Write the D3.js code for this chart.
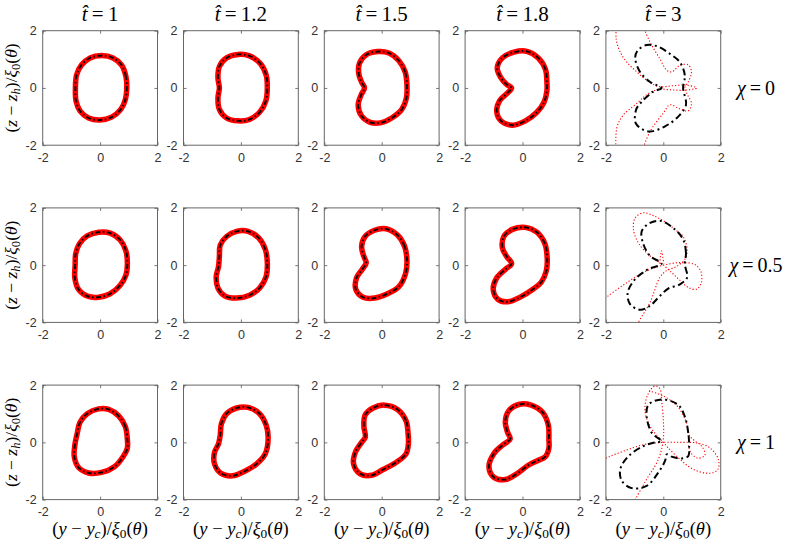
<!DOCTYPE html>
<html>
<head>
<meta charset="utf-8">
<script src="https://cdn.jsdelivr.net/npm/d3@7"></script>
<style>
  body { margin: 0; background: white; }
  svg { display: block; }
</style>
</head>
<body>
<div id="chart"></div>
<script>
// column and row labels
const tValues = ["1", "1.2", "1.5", "1.8", "3"];
const chiValues = ["0", "0.5", "1"];
const tickValues = [-2, 0, 2];

// chi = 0 contours, (y - yc)/xi0, (z - zh)/xi0
const chi0_t1 = [[0.93, 0], [0.9, 0.4], [0.75, 0.8], [0.45, 1.05], [0.05, 1.13], [-0.35, 1.05], [-0.65, 0.8], [-0.82, 0.45], [-0.86, 0], [-0.84, -0.45], [-0.7, -0.8], [-0.4, -1.05], [0, -1.12], [0.4, -1.02], [0.72, -0.75], [0.88, -0.4]];
const chi0_t12 = [[0.92, 0], [0.88, 0.45], [0.68, 0.85], [0.3, 1.12], [-0.1, 1.17], [-0.5, 1.05], [-0.75, 0.75], [-0.8, 0.35], [-0.75, 0], [-0.8, -0.35], [-0.75, -0.75], [-0.5, -1.05], [-0.1, -1.15], [0.3, -1.1], [0.65, -0.85], [0.87, -0.45]];
const chi0_t15 = [[0.88, 0.1], [0.82, 0.55], [0.6, 0.95], [0.25, 1.22], [-0.15, 1.27], [-0.55, 1.15], [-0.78, 0.85], [-0.8, 0.5], [-0.7, 0.2], [-0.6, 0], [-0.72, -0.25], [-0.82, -0.6], [-0.7, -0.98], [-0.4, -1.2], [-0.05, -1.22], [0.35, -1.05], [0.7, -0.75], [0.86, -0.35]];
const chi0_t18 = [[0.85, 0.2], [0.8, 0.65], [0.55, 1.05], [0.15, 1.28], [-0.3, 1.25], [-0.7, 1.05], [-0.88, 0.7], [-0.75, 0.35], [-0.55, 0.12], [-0.38, 0], [-0.55, -0.2], [-0.8, -0.45], [-0.9, -0.8], [-0.75, -1.15], [-0.35, -1.3], [0.1, -1.15], [0.5, -0.85], [0.75, -0.5], [0.85, -0.1]];
const chi0_t3_black = [[0.69, 0], [0.75, 0.44], [0.58, 0.9], [0.23, 1.19], [-0.2, 1.45], [-0.58, 1.5], [-0.9, 1.3], [-0.98, 1.05], [-0.81, 0.56], [-0.46, 0.21], [-0.06, 0], [-0.35, -0.13], [-0.75, -0.48], [-0.95, -0.77], [-0.95, -1.25], [-0.52, -1.52], [0.06, -1.34], [0.52, -1.0], [0.79, -0.59]];
const chi0_t3_red = [[-1.62, 2.4], [-1.64, 1.7], [-1.5, 1.25], [-1.27, 0.9], [-0.92, 0.56], [-0.58, 0.27], [-0.17, 0.05], [0.35, 0.08], [0.81, 0.1], [1.16, 0], [0.75, -0.08], [0.3, -0.07], [-0.17, -0.05], [-0.6, -0.25], [-0.92, -0.54], [-1.39, -0.94], [-1.62, -1.4], [-1.64, -2.4]];
const chi0_t3_red2 = [[-0.81, -2.4], [-0.46, -1.52], [0, -0.88], [0.23, -0.59], [0.55, -0.72], [0.87, -0.8], [0.98, -0.54], [0.85, -0.25], [0.75, 0], [0.87, 0.21], [0.98, 0.56], [0.87, 0.81], [0.58, 0.79], [0.29, 0.56], [0.12, 0.62], [-0.12, 1.02], [-0.46, 1.6], [-0.81, 2.4]];

// chi = 0.5 contours
const chi05_t1 = [[0.95, 0.05], [0.9, 0.5], [0.7, 0.88], [0.35, 1.12], [-0.05, 1.15], [-0.45, 1.02], [-0.72, 0.75], [-0.85, 0.4], [-0.87, 0], [-0.88, -0.45], [-0.75, -0.85], [-0.45, -1.08], [-0.05, -1.12], [0.35, -1.0], [0.7, -0.7], [0.9, -0.35]];
const chi05_t12 = [[0.92, 0.1], [0.85, 0.55], [0.62, 0.95], [0.25, 1.18], [-0.15, 1.18], [-0.5, 1.0], [-0.72, 0.7], [-0.75, 0.3], [-0.78, -0.05], [-0.86, -0.4], [-0.8, -0.8], [-0.55, -1.08], [-0.15, -1.15], [0.3, -1.05], [0.65, -0.8], [0.88, -0.4]];
const chi05_t15 = [[0.88, 0.15], [0.8, 0.65], [0.55, 1.05], [0.15, 1.27], [-0.25, 1.22], [-0.58, 1.0], [-0.7, 0.65], [-0.62, 0.3], [-0.54, 0.08], [-0.68, -0.15], [-0.88, -0.45], [-0.9, -0.85], [-0.65, -1.12], [-0.25, -1.15], [0.2, -1.0], [0.6, -0.75], [0.83, -0.3]];
const chi05_t18 = [[0.86, 0.25], [0.78, 0.75], [0.5, 1.15], [0.1, 1.32], [-0.35, 1.25], [-0.65, 1.0], [-0.7, 0.6], [-0.55, 0.3], [-0.38, 0.05], [-0.6, -0.15], [-0.9, -0.45], [-1.02, -0.85], [-0.85, -1.2], [-0.5, -1.28], [-0.05, -1.1], [0.35, -0.85], [0.65, -0.6], [0.83, -0.2]];
const chi05_t3_black = [[0.75, 0.03], [0.79, 0.43], [0.69, 0.9], [0.4, 1.25], [-0.06, 1.54], [-0.46, 1.48], [-0.75, 1.19], [-0.69, 0.72], [-0.46, 0.32], [-0.06, 0.05], [-0.52, -0.14], [-0.98, -0.49], [-1.24, -0.96], [-1.16, -1.36], [-0.81, -1.56], [-0.46, -1.42], [-0.17, -1.13], [0.17, -0.82], [0.58, -0.67], [0.83, -0.43]];
const chi05_t3_red = [[-2.4, -1.4], [-2, -1.13], [-1.27, -0.61], [-0.58, -0.2], [0, 0], [0.64, 0.09], [1.1, 0.02], [1.3, -0.2], [1.33, -0.6], [1.16, -0.84], [0.87, -0.78], [0.55, -0.5], [0.29, -0.26], [0, 0], [-0.46, 0.32], [-0.87, 0.78], [-1.04, 1.25], [-0.98, 1.65], [-0.69, 1.83], [-0.35, 1.73], [0.05, 1.52], [0.4, 1.25], [0.69, 1.0], [0.83, 0.55], [0.75, 0.2], [0.45, -0.05], [0.1, -0.2], [-0.12, -0.43], [-0.46, -1.3], [-0.87, -2], [-1.05, -2.4]];
const chi05_t3_red2 = [[-0.12, 0.05], [-0.1, 0.3], [-0.06, 0.5], [-0.02, 0.3], [0.02, 0.05]];

// chi = 1 contours
const chi1_t1 = [[0.95, 0.1], [0.88, 0.55], [0.65, 0.92], [0.3, 1.15], [-0.05, 1.17], [-0.45, 1.0], [-0.7, 0.7], [-0.8, 0.3], [-0.88, -0.1], [-0.9, -0.5], [-0.75, -0.88], [-0.4, -1.07], [0.05, -1.05], [0.5, -0.85], [0.8, -0.5], [0.95, -0.2]];
const chi1_t12 = [[0.95, 0.15], [0.88, 0.6], [0.65, 1.0], [0.25, 1.22], [-0.15, 1.2], [-0.5, 1.0], [-0.68, 0.65], [-0.72, 0.25], [-0.78, -0.05], [-0.92, -0.35], [-0.92, -0.75], [-0.7, -1.08], [-0.3, -1.17], [0.15, -1.0], [0.55, -0.75], [0.85, -0.4]];
const chi1_t15 = [[0.92, 0.3], [0.85, 0.75], [0.55, 1.15], [0.1, 1.3], [-0.3, 1.2], [-0.58, 0.95], [-0.62, 0.55], [-0.57, 0.18], [-0.7, 0], [-0.92, -0.35], [-0.98, -0.75], [-0.75, -1.1], [-0.35, -1.15], [0.05, -0.95], [0.5, -0.7], [0.85, -0.4], [0.93, -0.05]];
const chi1_t18 = [[0.92, 0.1], [0.9, 0.6], [0.7, 1.05], [0.3, 1.3], [-0.1, 1.33], [-0.48, 1.1], [-0.6, 0.7], [-0.52, 0.35], [-0.43, 0.12], [-0.7, -0.1], [-1.0, -0.4], [-1.17, -0.85], [-1.0, -1.22], [-0.6, -1.3], [-0.2, -1.1], [0.2, -0.8], [0.5, -0.65], [0.8, -0.5], [0.92, -0.2]];
const chi1_t3_black = [[0.9, -0.13], [0.87, 0.33], [0.75, 0.9], [0.52, 1.31], [-0.06, 1.5], [-0.52, 1.31], [-0.58, 0.9], [-0.4, 0.33], [-0.06, 0.04], [-0.29, 0], [-0.69, -0.13], [-1.21, -0.48], [-1.5, -0.94], [-1.45, -1.34], [-1.1, -1.6], [-0.58, -1.52], [-0.17, -1.05], [0.06, -0.65], [0.12, -0.42], [0.29, -0.5], [0.64, -0.56], [0.87, -0.48]];
const chi1_t3_red = [[-2.4, -0.75], [-1.97, -0.54], [-1.39, -0.31], [-0.69, -0.08], [0, 0], [0.6, 0], [1.16, -0.02], [1.62, -0.19], [1.92, -0.6], [1.9, -0.95], [1.62, -1.08], [1.04, -0.94], [0.58, -0.59], [0.17, -0.19], [0, 0], [-0.46, 0.56], [-0.64, 1.14], [-0.52, 1.71], [-0.29, 1.97], [-0.12, 1.88], [-0.06, 1.48], [0, 0.79], [0, 0.1], [-0.17, -0.59], [-0.58, -1.29], [-0.98, -2], [-1.2, -2.4]];
const chi1_t3_red2 = [[-0.5, 1.8], [0, 1.62], [0.5, 1.25], [0.8, 0.7], [0.9, 0.25], [1.1, 0.05], [1.35, -0.15], [1.45, -0.45], [1.2, -0.55], [0.95, -0.35], [0.88, -0.1]];

const smoothRows = [
    [chi0_t1, chi0_t12, chi0_t15, chi0_t18],
    [chi05_t1, chi05_t12, chi05_t15, chi05_t18],
    [chi1_t1, chi1_t12, chi1_t15, chi1_t18]
];
const blackT3 = [chi0_t3_black, chi05_t3_black, chi1_t3_black];
const redT3 = [[chi0_t3_red, chi0_t3_red2], [chi05_t3_red, chi05_t3_red2], [chi1_t3_red, chi1_t3_red2]];

let width = 789, height = 545;
let panelLeft = 42.7, panelTop = 30.7, panelW = 114.8, panelH = 114.5;
let colStep = 140.8, rowStep = 177.2;
let serif = "'Liberation Serif', 'Times New Roman', 'DejaVu Serif', serif";
let sans = "'Liberation Sans', Arial, sans-serif";
let eq = "\u2009=\u2009"; // wider spacing around = like TeX

let svg = d3.select("#chart").append("svg")
    .attr("width", width)
    .attr("height", height);

let x = d3.scaleLinear().domain([-2, 2]).range([0, panelW]);
let y = d3.scaleLinear().domain([-2, 2]).range([panelH, 0]);

let closedLine = d3.line().x(d => x(d[0])).y(d => y(d[1])).curve(d3.curveCatmullRomClosed.alpha(0.5));
let openLine = d3.line().x(d => x(d[0])).y(d => y(d[1])).curve(d3.curveCatmullRom.alpha(0.5));

// pieces: [text, italic, subscript]
function MathText(sel, pieces) {
    pieces.forEach(p => {
        let ts = sel.append("tspan").text(p[0]);
        if (p[1]) ts.style("font-style", "italic");
        if (p[2]) ts.attr("font-size", "0.72em").attr("baseline-shift", "-22%");
    });
}

function DrawAxes(g) {
    g.append("rect")
        .attr("width", panelW)
        .attr("height", panelH)
        .style("fill", "white");

    let fmt = d => String(d);
    let bottom = g.append("g").attr("transform", "translate(0," + panelH + ")")
        .call(d3.axisBottom(x).tickValues(tickValues).tickFormat(fmt).tickSizeInner(-3).tickSizeOuter(0).tickPadding(8));
    let left = g.append("g")
        .call(d3.axisLeft(y).tickValues(tickValues).tickFormat(fmt).tickSizeInner(-3).tickSizeOuter(0).tickPadding(6));
    let top = g.append("g")
        .call(d3.axisTop(x).tickValues(tickValues).tickSizeInner(-3).tickSizeOuter(0).tickFormat(""));
    let right = g.append("g").attr("transform", "translate(" + panelW + ",0)")
        .call(d3.axisRight(y).tickValues(tickValues).tickSizeInner(-3).tickSizeOuter(0).tickFormat(""));

    [bottom, left, top, right].forEach(a => {
        a.select(".domain").remove();
        a.selectAll("line").style("stroke", "#555").style("stroke-width", 0.8);
        a.selectAll("text")
            .style("font-family", sans)
            .style("font-size", "12.5px")
            .style("fill", "#333");
    });
}

function DrawBox(g) {
    g.append("rect")
        .attr("width", panelW)
        .attr("height", panelH)
        .style("fill", "none")
        .style("stroke", "#666")
        .style("stroke-width", 1);
}

for (let r = 0; r < chiValues.length; ++r) {
    for (let c = 0; c < tValues.length; ++c) {
        let g = svg.append("g")
            .attr("transform", "translate(" + (panelLeft + colStep * c) + "," + (panelTop + rowStep * r) + ")");
        DrawAxes(g);

        let clipId = "clip" + r + "_" + c;
        g.append("clipPath").attr("id", clipId)
            .append("rect").attr("width", panelW).attr("height", panelH);
        let plot = g.append("g").attr("clip-path", "url(#" + clipId + ")");

        if (c < 4) {
            let pts = smoothRows[r][c];
            plot.append("path")
                .attr("d", closedLine(pts))
                .style("fill", "none")
                .style("stroke", "#ff0000")
                .style("stroke-width", 5.5)
                .style("stroke-linejoin", "round");
            plot.append("path")
                .attr("d", closedLine(pts))
                .style("fill", "none")
                .style("stroke", "black")
                .style("stroke-width", 1.8)
                .style("stroke-dasharray", "5,2.5,1.5,2.5");
        } else {
            redT3[r].forEach(seg => {
                plot.append("path")
                    .attr("d", openLine(seg))
                    .style("fill", "none")
                    .style("stroke", "#ff0000")
                    .style("stroke-width", 1.1)
                    .style("stroke-dasharray", "1.2,2");
            });
            plot.append("path")
                .attr("d", closedLine(blackT3[r]))
                .style("fill", "none")
                .style("stroke", "black")
                .style("stroke-width", 2)
                .style("stroke-dasharray", "7,3.5,2,3.5");
        }
        DrawBox(g);

        // column titles
        if (r == 0) {
            let t = svg.append("text")
                .attr("x", panelLeft + colStep * c + panelW / 2)
                .attr("y", 21)
                .attr("text-anchor", "middle")
                .style("font-family", serif)
                .style("font-size", "21px");
            MathText(t, [["t\u0302", true, false], [eq + tValues[c], false, false]]);
        }
        // x labels under the last row
        if (r == chiValues.length - 1) {
            let t = svg.append("text")
                .attr("x", panelLeft + colStep * c + panelW / 2)
                .attr("y", 535)
                .attr("text-anchor", "middle")
                .style("font-family", serif)
                .style("font-size", "18.5px");
            MathText(t, [["(", false, false], ["y", true, false], [" \u2212 ", false, false], ["y", true, false], ["c", true, true],
                [")/", false, false], ["\u03BE", true, false], ["0", false, true], ["(", false, false], ["\u03B8", true, false], [")", false, false]]);
        }
    }

    // y label on the left of each row
    let cy = panelTop + rowStep * r + panelH / 2;
    let yl = svg.append("text")
        .attr("transform", "translate(17," + cy + ") rotate(-90)")
        .attr("text-anchor", "middle")
        .style("font-family", serif)
        .style("font-size", "17.5px");
    MathText(yl, [["(", false, false], ["z", true, false], [" \u2212 ", false, false], ["z", true, false], ["h", true, true],
        [")/", false, false], ["\u03BE", true, false], ["0", false, true], ["(", false, false], ["\u03B8", true, false], [")", false, false]]);

    // chi label on the right
    let cl = svg.append("text")
        .attr("x", 756)
        .attr("y", cy + 7)
        .attr("text-anchor", "middle")
        .style("font-family", serif)
        .style("font-size", "20px");
    MathText(cl, [["\u03C7", true, false], [eq + chiValues[r], false, false]]);
}
</script>
</body>
</html>
